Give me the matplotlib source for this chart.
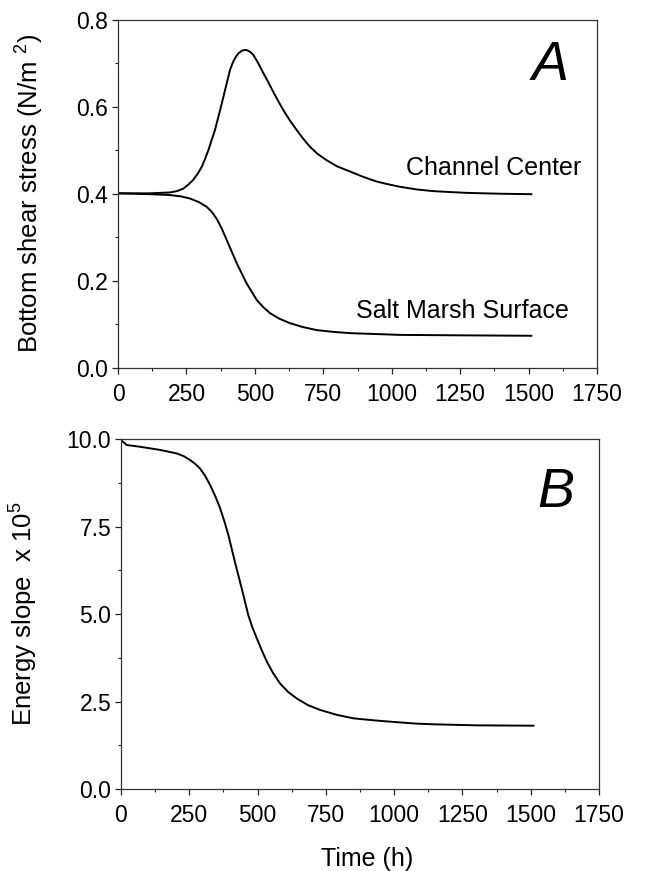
import matplotlib
matplotlib.use('Agg')
from matplotlib import pyplot as plt
from matplotlib.ticker import MultipleLocator

plt.rcParams['font.family'] = ['Liberation Sans', 'DejaVu Sans']
plt.rcParams['mathtext.fontset'] = 'custom'
plt.rcParams['mathtext.rm'] = 'Liberation Sans'
plt.rcParams['mathtext.it'] = 'Liberation Sans:italic'

# Panel A: bottom shear stress (N/m2)
t_chan = [0, 117, 190, 215, 239, 257, 275, 291, 306, 318, 330, 342, 354, 373, 391, 409, 420, 431,
          441, 452, 461, 470, 482, 494, 512, 531, 549, 567, 585, 604, 628, 653, 677, 701, 730, 762,
          800, 848, 895, 945, 985, 1030, 1090, 1152, 1210, 1274, 1400, 1510]
tau_chan = [0.401, 0.401, 0.403, 0.406, 0.412, 0.421, 0.432, 0.446, 0.462, 0.480, 0.500, 0.523,
            0.546, 0.592, 0.638, 0.684, 0.702, 0.715, 0.723, 0.728, 0.730, 0.730, 0.726, 0.719,
            0.700, 0.677, 0.656, 0.634, 0.613, 0.592, 0.568, 0.546, 0.526, 0.508, 0.491, 0.477,
            0.463, 0.451, 0.439, 0.428, 0.422, 0.416, 0.410, 0.406, 0.404, 0.402, 0.400, 0.399]

t_marsh = [0, 117, 190, 230, 263, 295, 324, 343, 361, 379, 397, 434, 470, 507, 530, 555, 590, 628,
           675, 726, 785, 848, 940, 1030, 1140, 1250, 1380, 1510]
tau_marsh = [0.401, 0.399, 0.397, 0.394, 0.389, 0.381, 0.370, 0.358, 0.342, 0.320, 0.294, 0.240,
             0.194, 0.156, 0.140, 0.126, 0.113, 0.103, 0.094, 0.087, 0.083, 0.080, 0.078, 0.076,
             0.0755, 0.075, 0.0745, 0.074]

# Panel B: energy slope x 1e5
t_slope = [0, 21, 70, 143, 204, 230, 253, 272, 289, 308, 326, 345, 363, 378, 393, 417, 442, 466,
           481, 497, 515, 534, 557, 582, 611, 643, 684, 729, 790, 851, 930, 1010, 1080, 1144, 1300,
           1510]
slope = [9.97, 9.83, 9.78, 9.69, 9.59, 9.51, 9.40, 9.29, 9.16, 8.95, 8.69, 8.37, 8.02, 7.66, 7.26,
         6.49, 5.73, 4.97, 4.62, 4.31, 3.97, 3.64, 3.31, 3.02, 2.78, 2.59, 2.40, 2.26, 2.12, 2.02,
         1.96, 1.91, 1.87, 1.85, 1.82, 1.81]

fig = plt.figure(figsize=(6.46, 8.71), dpi=100)
axA = fig.add_axes([0.1827, 0.5775, 0.7415, 0.4001])
axB = fig.add_axes([0.1873, 0.0941, 0.740, 0.4018])

for ax in (axA, axB):
    for sp in ax.spines.values():
        sp.set_linewidth(0.9)
        sp.set_color('#333333')
    ax.set_xlim(0, 1750)
    ax.xaxis.set_major_locator(MultipleLocator(250))
    ax.xaxis.set_minor_locator(MultipleLocator(125))
    ax.tick_params(which='both', direction='out', top=False, right=False, labelsize=16.5, color='#222222')
    ax.tick_params(which='major', length=4.5, width=0.9)
    ax.tick_params(which='minor', length=2.5, width=0.8)
    ax.tick_params(axis='x', pad=6)
    ax.tick_params(axis='y', pad=2.5)

# Panel A
axA.plot(t_chan, tau_chan, color='black', lw=1.4)
axA.plot(t_marsh, tau_marsh, color='black', lw=1.4)
axA.set_ylim(0, 0.8)
axA.yaxis.set_major_locator(MultipleLocator(0.2))
axA.yaxis.set_minor_locator(MultipleLocator(0.1))
axA.set_yticklabels(['%.1f' % v for v in axA.get_yticks()])
axA.set_ylabel('Bottom shear stress (N/m $^{2}$)', fontsize=18.5)
axA.yaxis.set_label_coords(-0.150, 0.5)
axA.text(1052, 0.443, 'Channel Center', fontsize=18, va='baseline')
axA.text(870, 0.115, 'Salt Marsh Surface', fontsize=18, va='baseline')
axA.text(0.864, 0.826, 'A', transform=axA.transAxes, fontsize=40, style='italic', va='baseline')

# Panel B
axB.plot(t_slope, slope, color='black', lw=1.4)
axB.set_ylim(0, 10)
axB.yaxis.set_major_locator(MultipleLocator(2.5))
axB.yaxis.set_minor_locator(MultipleLocator(1.25))
axB.set_yticklabels(['%.1f' % v for v in axB.get_yticks()])
axB.set_ylabel('Energy slope  x 10$^{5}$', fontsize=18.5)
axB.yaxis.set_label_coords(-0.169, 0.5)
axB.set_xlabel('Time (h)', fontsize=18)
axB.xaxis.set_label_coords(0.515, -0.165)
axB.text(0.870, 0.806, 'B', transform=axB.transAxes, fontsize=40, style='italic', va='baseline')

fig.savefig('out.png', dpi=100)
